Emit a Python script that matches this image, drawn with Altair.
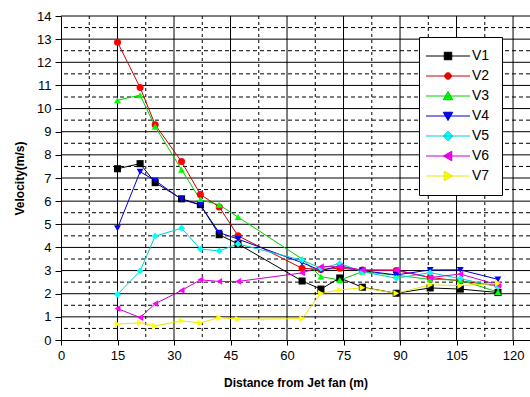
import altair as alt
import pandas as pd

# ---- data ----
dist = [15, 21, 25, 32, 37, 42, 47, 64, 69, 74, 80, 89, 98, 106, 116]
V1 = [7.40, 7.62, 6.80, 6.10, 5.85, 4.55, 4.15, 2.55, 2.20, 2.68, 2.28, 2.02, 2.25, 2.20, 2.05]
V2 = [12.87, 10.91, 9.30, 7.71, 6.29, 5.75, 4.50, 3.10, 3.05, 3.10, 3.02, 3.00, 2.70, 2.55, 2.35]
V3 = [10.36, 10.58, 9.22, 7.36, 6.06, 5.84, 5.31, 3.50, 2.74, 2.59, 2.95, 2.80, 2.62, 2.59, 2.07]
V4 = [4.83, 7.27, 6.89, 6.08, 5.83, 4.64, 4.36, 3.34, 3.00, 3.20, 3.00, 2.81, 3.03, 3.03, 2.62]
V5 = [1.97, 2.98, 4.49, 4.83, 3.93, 3.85, 4.15, 3.45, 3.10, 3.31, 2.95, 2.67, 2.91, 2.65, 2.30]
V6 = [1.36, 0.97, 1.57, 2.14, 2.60, 2.53, 2.53, 2.90, 3.17, 3.17, 3.03, 3.03, 2.70, 2.85, 2.38]
V7 = [0.69, 0.74, 0.61, 0.83, 0.74, 0.97, 0.90, 0.92, 2.02, 2.16, 2.26, 2.02, 2.38, 2.35, 2.45]

series_names = ["V1", "V2", "V3", "V4", "V5", "V6", "V7"]
series_vals = [V1, V2, V3, V4, V5, V6, V7]
colors = ["#000000", "#FF0000", "#00FF00", "#0000FF", "#00FFFF", "#FF00FF", "#FFFF00"]
line_colors = ["#000000", "#CC0000", "#00CC00", "#0000CC", "#00CCCC", "#CC00CC", "#E6E600"]
shapes = ["square", "circle", "triangle-up", "triangle-down", "diamond", "triangle-left", "triangle-right"]
sizes = [50, 45, 80, 80, 70, 80, 80]

x_ticks = [0, 15, 30, 45, 60, 75, 90, 105, 120]
x_minor = [7.5, 22.5, 37.5, 52.5, 67.5, 82.5, 97.5, 112.5]
y_ticks = list(range(0, 15))
y_minor = [i + 0.5 for i in range(0, 14)]

LINE = "M-4.4,0H4.4"
legend_paths = [
    LINE + "M-0.75,-0.75H0.75V0.75H-0.75Z",
    LINE + "M-0.65,0A0.65,0.65 0 1,0 0.65,0A0.65,0.65 0 1,0 -0.65,0Z",
    LINE + "M0,-0.9L0.95,0.75H-0.95Z",
    LINE + "M0,0.9L0.95,-0.75H-0.95Z",
    LINE + "M0,-0.95L0.95,0L0,0.95L-0.95,0Z",
    LINE + "M-0.9,0L0.75,-0.95V0.95Z",
    LINE + "M0.9,0L-0.75,-0.95V0.95Z",
]

rows = []
for name, vals in zip(series_names, series_vals):
    for d, v in zip(dist, vals):
        rows.append({"series": name, "d": d, "v": v})
df = pd.DataFrame(rows)

FONT = "Liberation Sans"
xscale = alt.Scale(domain=[0, 124.5], nice=False, zero=False)
yscale = alt.Scale(domain=[0, 14], nice=False)

xaxis = alt.Axis(values=x_ticks, grid=False, title="Distance from Jet fan (m)",
                 labelFont=FONT, labelFontSize=13, labelColor="black",
                 titleFont=FONT, titleFontSize=12, titleFontWeight="bold", titleColor="black",
                 domainColor="black", tickColor="black", tickSize=5, labelPadding=4,
                 titlePadding=15, labelFlush=False)
yaxis = alt.Axis(values=y_ticks, grid=False, title="Velocity(m/s)",
                 labelFont=FONT, labelFontSize=13, labelColor="black",
                 titleFont=FONT, titleFontSize=12, titleFontWeight="bold", titleColor="black",
                 domainColor="black", tickColor="black", tickSize=6, labelPadding=4,
                 titlePadding=10, labelFlush=False)

X = alt.X("d:Q", scale=xscale, axis=xaxis)
Y = alt.Y("v:Q", scale=yscale, axis=yaxis)

hgrid_major = pd.DataFrame({"v": y_ticks[1:]})
hgrid_minor = pd.DataFrame({"v": y_minor})
vgrid_major = pd.DataFrame({"d": x_ticks[1:]})
vgrid_minor = pd.DataFrame({"d": x_minor})

g1 = alt.Chart(hgrid_major).mark_rule(color="#000000", strokeWidth=1).encode(y=Y)
g2 = alt.Chart(hgrid_minor).mark_rule(color="#000000", strokeWidth=1, strokeDash=[4, 3]).encode(y=Y)
g3 = alt.Chart(vgrid_major).mark_rule(color="#000000", strokeWidth=1).encode(x=X)
g4 = alt.Chart(vgrid_minor).mark_rule(color="#000000", strokeWidth=1, strokeDash=[3, 3]).encode(x=X)

cscale = alt.Scale(domain=series_names, range=line_colors)
fscale = alt.Scale(domain=series_names, range=colors)

lines = alt.Chart(df).mark_line(strokeWidth=1).encode(
    x=X, y=Y,
    color=alt.Color("series:N", scale=cscale, legend=None),
    detail="series:N",
)
points = alt.Chart(df).mark_point(filled=True, opacity=1, strokeWidth=0).encode(
    x=X, y=Y,
    color=alt.Color("series:N", scale=fscale, legend=None),
    shape=alt.Shape("series:N", scale=alt.Scale(domain=series_names, range=shapes), legend=None),
    size=alt.Size("series:N", scale=alt.Scale(domain=series_names, range=sizes), legend=None),
)

leg = alt.Legend(orient="none", legendX=358, legendY=21, title=None,
                 fillColor="white", strokeColor="black", padding=12,
                 symbolSize=100, symbolStrokeWidth=1, symbolOffset=10,
                 labelOffset=17, rowPadding=6, labelFont=FONT, labelFontSize=14,
                 labelColor="black")
dummy = alt.Chart(df).transform_filter("datum.v < -100").mark_point(filled=True, opacity=1).encode(
    x=X, y=Y,
    color=alt.Color("series:N", scale=fscale, legend=leg),
    stroke=alt.Stroke("series:N", scale=cscale, legend=leg),
    shape=alt.Shape("series:N", scale=alt.Scale(domain=series_names, range=legend_paths), legend=leg),
)

chart = alt.layer(g2, g4, g1, g3, lines, points, dummy).resolve_scale(
    color="independent", shape="independent", size="independent", stroke="independent"
).properties(
    width=469, height=324,
    autosize=alt.AutoSizeParams(type="none"),
    padding={"left": 61, "top": 16, "right": 0, "bottom": 57},
    background="white",
).configure_view(stroke=None)

chart.save("out.html", embed_options={"renderer": "svg", "actions": False})
